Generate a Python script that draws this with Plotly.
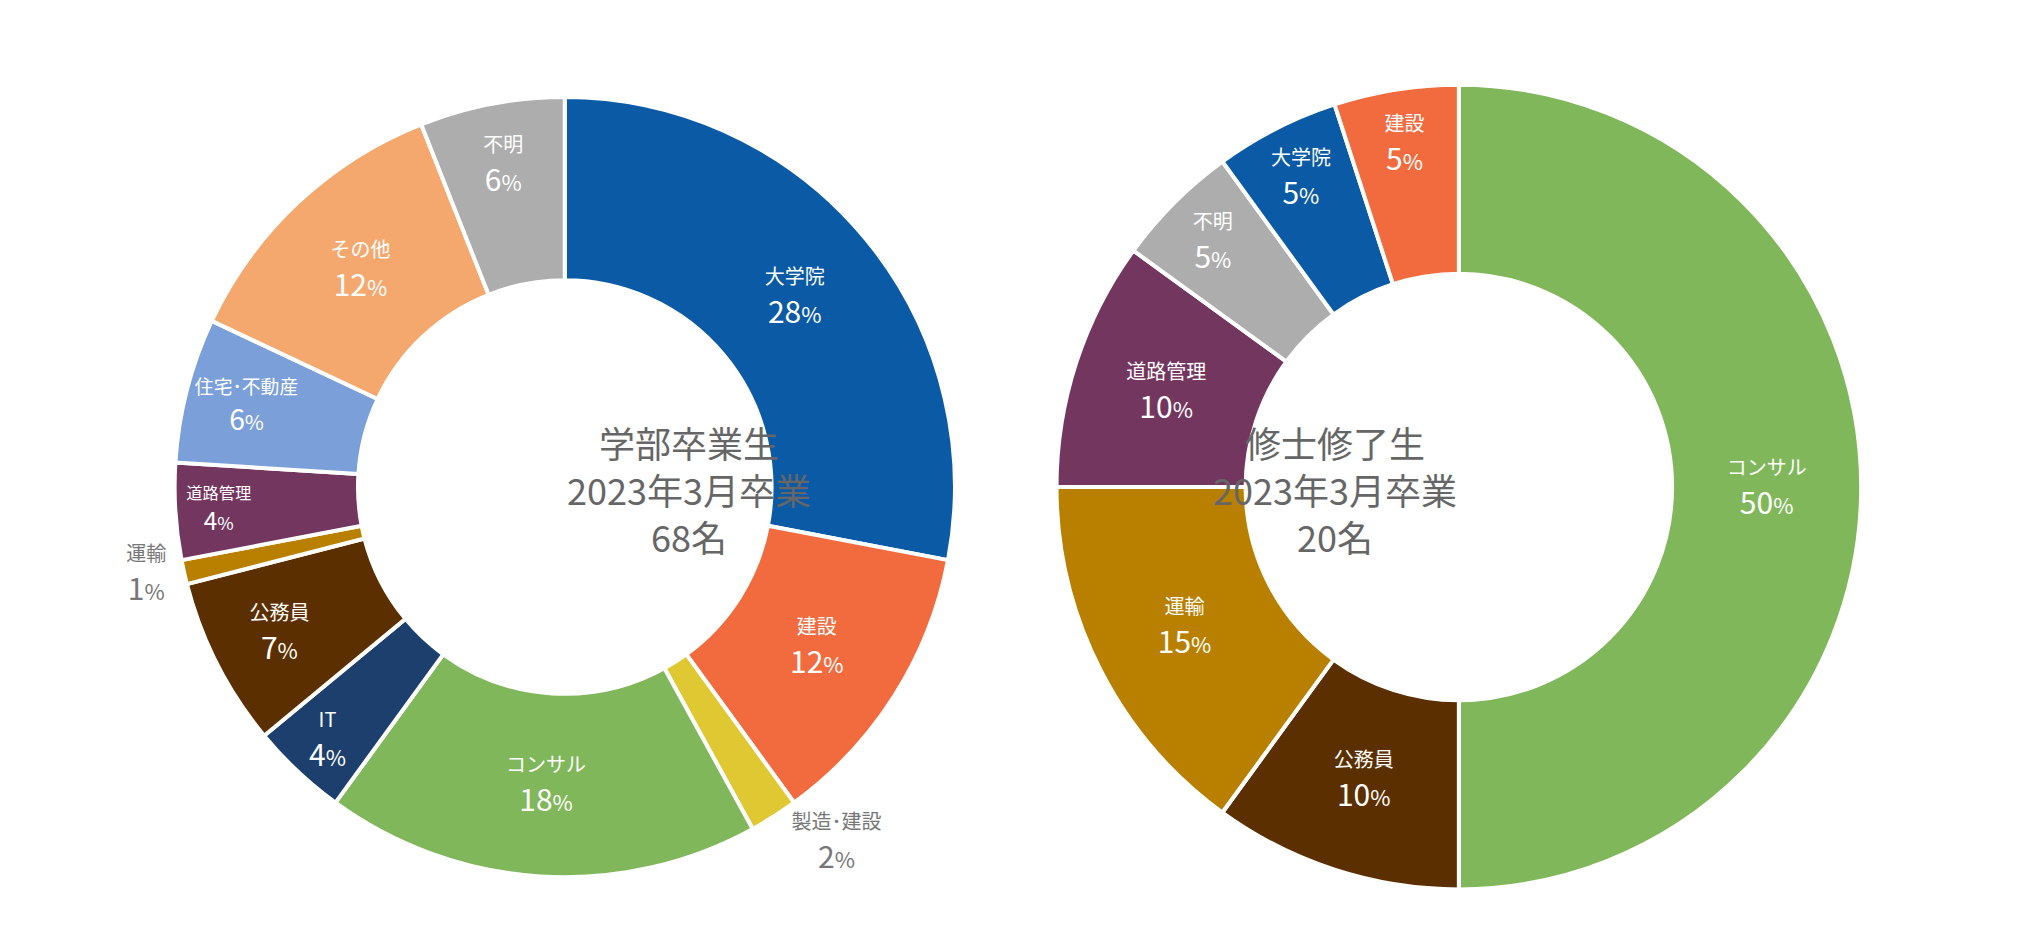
import plotly.graph_objects as go

# 学部卒業生
ug_labels = ["大学院", "建設", "製造･建設", "コンサル", "IT", "公務員", "運輸", "道路管理", "住宅･不動産", "その他", "不明"]
ug_values = [28, 12, 2, 18, 4, 7, 1, 4, 6, 12, 6]
ug_colors = ["#0b5aa5", "#f26b3f", "#e0c832", "#80b75a", "#1c3f6d", "#5c2f00", "#b98000", "#73365f", "#7b9fd8", "#f4a86e", "#adadad"]
ug_pos = ["inside", "inside", "outside", "inside", "inside", "inside", "outside", "inside", "inside", "inside", "inside"]

# 修士修了生
ms_labels = ["コンサル", "公務員", "運輸", "道路管理", "不明", "大学院", "建設"]
ms_values = [50, 10, 15, 10, 5, 5, 5]
ms_colors = ["#80b75a", "#5c2f00", "#b98000", "#73365f", "#adadad", "#0b5aa5", "#f26b3f"]

FONT = "Noto Sans CJK JP"


def donut(labels, values, colors, pos, domain):
    return go.Pie(
        labels=labels, values=values, sort=False, direction="clockwise", rotation=0,
        hole=0.53, domain=domain,
        marker=dict(colors=colors, line=dict(color="white", width=4)),
        texttemplate="<span style='font-size:20px'>%{label}</span><br>%{value}<span style='font-size:22px'>%</span>",
        textposition=pos, insidetextorientation="horizontal",
        textfont=dict(family=FONT, size=30, color=["#777" if p == "outside" else "white" for p in pos]),
        outsidetextfont=dict(family=FONT, size=30, color="#777"),
        showlegend=False, hoverinfo="label+percent",
    )


fig = go.Figure()
fig.add_trace(donut(ug_labels, ug_values, ug_colors, ug_pos, dict(x=[0.082, 0.466], y=[0.077, 0.907])))
fig.add_trace(donut(ms_labels, ms_values, ms_colors, ["inside"] * len(ms_labels), dict(x=[0.516, 0.912], y=[0.065, 0.919])))

for x, t in [(0.274, "学部卒業生<br>2023年3月卒業<br>68名"), (0.714, "修士修了生<br>2023年3月卒業<br>20名")]:
    fig.add_annotation(x=x, y=0.49, xref="paper", yref="paper", text=t, showarrow=False,
                       font=dict(family=FONT, size=36, color="#666"))

fig.update_layout(
    width=2032, height=943, margin=dict(l=0, r=0, t=0, b=0),
    paper_bgcolor="white", font=dict(family=FONT),
)
fig.write_html("out.html")
